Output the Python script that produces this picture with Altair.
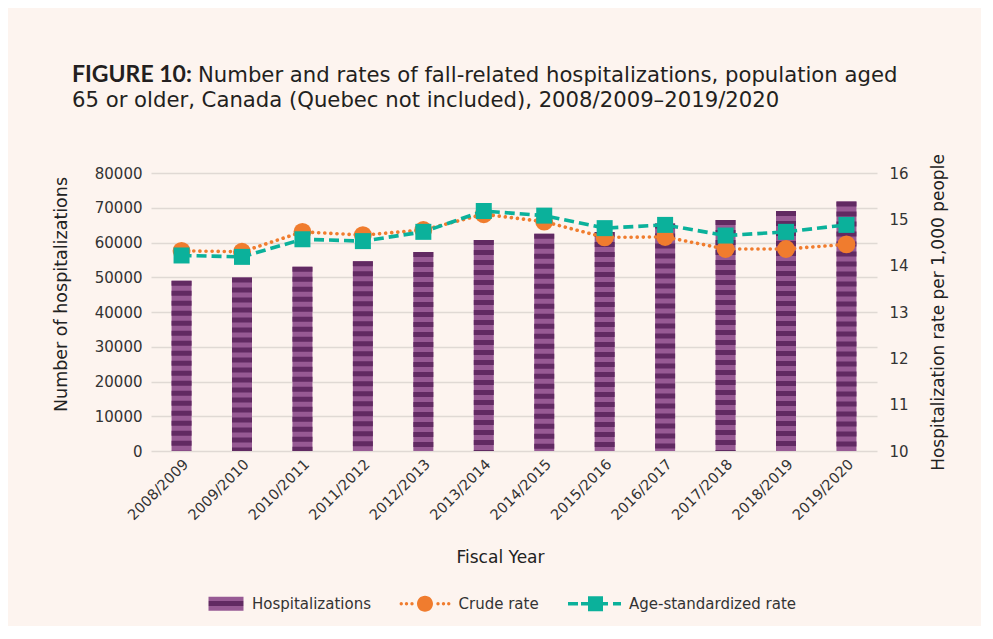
import altair as alt
import pandas as pd

years = ["2008/2009", "2009/2010", "2010/2011", "2011/2012", "2012/2013", "2013/2014",
         "2014/2015", "2015/2016", "2016/2017", "2017/2018", "2018/2019", "2019/2020"]
hospitalizations = [49000, 49900, 53000, 54600, 57300, 60700, 62500, 63000, 65500, 66500, 69100, 71800]
crude_rate = [14.32, 14.30, 14.73, 14.66, 14.77, 15.11, 14.95, 14.61, 14.62, 14.36, 14.36, 14.46]
age_std_rate = [14.22, 14.19, 14.57, 14.53, 14.73, 15.18, 15.08, 14.81, 14.88, 14.65, 14.73, 14.88]

series = ["Hospitalizations", "Crude rate", "Age-standardized rate"]
title_bold = "FIGURE 10:"
title_line1 = "Number and rates of fall-related hospitalizations, population aged"
title_line2 = "65 or older, Canada (Quebec not included), 2008/2009\u20132019/2020"

LIGHT = "#975a94"
DARK = "#612a62"
ORANGE = "#f07c2e"
TEAL = "#0bb19b"
BG = "#fdf4ef"
TXT = "#333333"
FONT = "DejaVu Sans"

df = pd.DataFrame({"year": years, "hosp": hospitalizations,
                   "crude": crude_rate, "age": age_std_rate})

x_enc = alt.X("year:N", sort=years,
              scale=alt.Scale(paddingInner=0.669, paddingOuter=0.34),
              axis=alt.Axis(title="Fiscal Year", labelAngle=-45, ticks=False, domain=False,
                            labelFontSize=14.5, labelColor=TXT, labelFont=FONT, labelPadding=6,
                            titleFontSize=17, titleFont=FONT, titleFontWeight="normal",
                            titleColor="#222222", titlePadding=27, titleX=349))

left_axis = alt.Axis(title="Number of hospitalizations", values=list(range(0, 80001, 10000)),
                     format="d", grid=True, gridColor="#e0d9d4", gridWidth=1.3,
                     domain=False, ticks=False, labelFontSize=15, labelColor=TXT,
                     labelFont=FONT, labelPadding=9, titleFontSize=17.5, titleFont=FONT,
                     titleFontWeight="normal", titleColor="#222222", titlePadding=24,
                     titleY=121)
left_scale = alt.Scale(domain=[0, 80000], nice=False, zero=True)

right_axis = alt.Axis(title="Hospitalization rate per 1,000 people", orient="right",
                      values=list(range(10, 17)), grid=False, domain=False, ticks=False,
                      labelFontSize=15, labelColor=TXT, labelFont=FONT, labelPadding=12,
                      titleFontSize=17, titleFont=FONT, titleFontWeight="normal",
                      titleColor="#222222", titlePadding=39, titleAngle=270)
right_scale = alt.Scale(domain=[10, 16], nice=False, zero=False)

base = alt.Chart(df).encode(x=x_enc)

bars = base.mark_bar(color=LIGHT).encode(
    y=alt.Y("hosp:Q", scale=left_scale, axis=left_axis))
stripes = base.mark_rule(color=DARK, strokeWidth=20, strokeDash=[5, 5], strokeCap="butt").encode(
    y=alt.Y("hosp:Q", scale=left_scale, axis=left_axis), y2=alt.datum(0))
left = alt.layer(bars, stripes)

crude_line = base.mark_line(color=ORANGE, strokeWidth=3.6, strokeDash=[0.1, 6], strokeCap="round").encode(
    y=alt.Y("crude:Q", scale=right_scale, axis=right_axis))
crude_pts = base.mark_point(filled=True, shape="circle", size=320, color=ORANGE, opacity=1).encode(
    y=alt.Y("crude:Q", scale=right_scale, axis=right_axis))
age_line = base.mark_line(color=TEAL, strokeWidth=3.6, strokeDash=[10, 5], strokeCap="butt").encode(
    y=alt.Y("age:Q", scale=right_scale, axis=right_axis))
age_pts = base.mark_point(filled=True, shape="square", size=256, color=TEAL, opacity=1).encode(
    y=alt.Y("age:Q", scale=right_scale, axis=right_axis))
right = alt.layer(crude_line, crude_pts, age_line, age_pts)


def rect(x1, x2, h):
    return f"M{x1},{-h}H{x2}V{h}H{x1}Z"


def circ(cx, r):
    return f"M{cx - r},0A{r},{r} 0 1,0 {cx + r},0A{r},{r} 0 1,0 {cx - r},0Z"


hosp_path = rect(-2, 5, 1.4)
crude_path = " ".join([circ(c, 0.33) for c in [-4.75, -3.7, -2.6, 2.6, 3.7, 4.75]] + [circ(0, 1.6)])
age_path = " ".join([rect(-5.5, -3.5, 0.35), rect(-2.9, -1.5, 0.35), rect(-1.5, 1.5, 1.5),
                     rect(1.5, 2.5, 0.35), rect(3.5, 5.1, 0.35)])

stripe_fill = {"expr": (
    "{gradient: 'linear', x1: 0, y1: 0, x2: 0, y2: 1, stops: ["
    f"{{offset: 0, color: '{LIGHT}'}}, {{offset: 0.333, color: '{LIGHT}'}},"
    f"{{offset: 0.333, color: '{DARK}'}}, {{offset: 0.667, color: '{DARK}'}},"
    f"{{offset: 0.667, color: '{LIGHT}'}}, {{offset: 1, color: '{LIGHT}'}}]}}"
)}

legend = alt.Legend(orient="none", legendX=60, legendY=423, direction="horizontal", title=None,
                    symbolSize=100, labelFontSize=15, labelFont=FONT, labelColor=TXT,
                    labelOffset=26, columnPadding=28.5, symbolOpacity=1, symbolStrokeWidth=0,
                    padding=0, labelLimit=400)
legend_df = pd.DataFrame({"series": series})
legend_layer = alt.Chart(legend_df).mark_point(filled=True, opacity=0).encode(
    color=alt.Color("series:N", sort=series,
                    scale=alt.Scale(domain=series, range=[stripe_fill, ORANGE, TEAL]),
                    legend=legend),
    shape=alt.Shape("series:N", sort=series,
                    scale=alt.Scale(domain=series, range=[hosp_path, crude_path, age_path]),
                    legend=legend))

t_bold = alt.Chart(pd.DataFrame({"t": [title_bold]})).mark_text(
    font="Lato", fontSize=23, fontWeight="bold", color="#231f20", align="left", baseline="alphabetic"
).encode(x=alt.value(-79), y=alt.value(-91.5), text="t:N")
t_l1 = alt.Chart(pd.DataFrame({"t": [title_line1]})).mark_text(
    font=FONT, fontSize=21.2, color="#231f20", align="left", baseline="alphabetic"
).encode(x=alt.value(47), y=alt.value(-91.5), text="t:N")
t_l2 = alt.Chart(pd.DataFrame({"t": [title_line2]})).mark_text(
    font=FONT, fontSize=21.2, color="#231f20", align="left", baseline="alphabetic"
).encode(x=alt.value(-79), y=alt.value(-66), text="t:N")

chart = alt.layer(left, right, legend_layer, t_bold, t_l1, t_l2).resolve_scale(
    y="independent"
).properties(
    width=726, height=278,
    autosize=alt.AutoSizeParams(type="none"),
    padding={"left": 143, "top": 165, "right": 104, "bottom": 175},
    background=BG,
).configure_view(stroke=None)

chart.save("out.html", embed_options={"renderer": "svg", "actions": False})
